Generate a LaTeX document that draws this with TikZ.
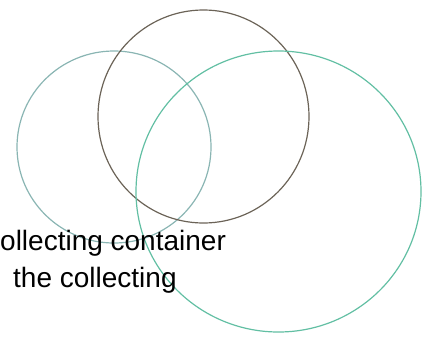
\documentclass[tikz,border=0pt]{standalone}
\usepackage{fontspec}
\setmainfont{Liberation Sans}
\usepackage{xcolor}
\usepackage{tikz}
\definecolor{paleteal}{HTML}{8AB5B3}
\definecolor{mint}{HTML}{62BFA3}
\definecolor{umber}{HTML}{6B6357}
\tikzset{
  ring/.style={line width=1.2pt},
  lab/.style={text=black, font=\fontsize{28}{37}\selectfont, inner sep=0pt, anchor=base west}
}

\begin{document}
\begin{tikzpicture}[x=1pt,y=-1pt]
\useasboundingbox (0,0) rectangle (425,338);
\draw[ring, draw=paleteal] (114,147) circle [x radius=97, y radius=96];
\draw[ring, draw=umber] (203.5,116.5) circle [x radius=105.5, y radius=106.5];
\draw[ring, draw=mint] (278.5,191.5) circle [x radius=142.5, y radius=140.5];
\node[lab] (lineA) at (-14,250) {collecting container};
\node[lab] (lineB) at (13,287) {the collecting};
\end{tikzpicture}
\end{document}
